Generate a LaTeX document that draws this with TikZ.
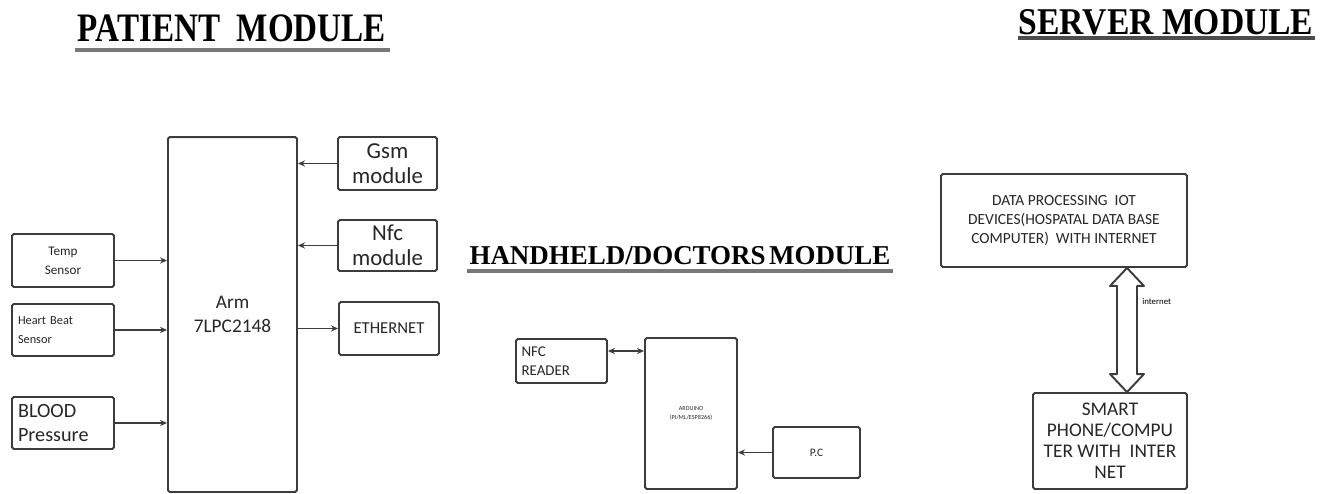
\documentclass[tikz,border=0pt]{standalone}
\usepackage{fontspec}
\setmainfont{Liberation Serif}
\newfontfamily\boxfont{Carlito}
\usetikzlibrary{arrows.meta,calc}
\definecolor{lineclr}{RGB}{60,60,60}
\definecolor{ulclr}{RGB}{120,120,120}
\tikzset{
  blk/.style={draw=lineclr, line width=1.1pt, rounded corners=1pt, inner sep=2pt, font=\boxfont, text=black!85},
  title/.style={font=\bfseries, inner sep=0pt, anchor=south},
  ulined/.style={draw=ulclr, line width=2.5pt},
  conn/.style={draw=lineclr, line width=1pt, -{Stealth[length=4pt,width=3.5pt]}},
  bconn/.style={conn, {Stealth[length=4pt,width=3.5pt]}-{Stealth[length=4pt,width=3.5pt]}}
}

\begin{document}
\begin{tikzpicture}[x=0.02cm, y=-0.02cm]
    \useasboundingbox (0,0) rectangle (1320,494);
    % titles
    \node[title, font=\bfseries\fontsize{23}{24}\selectfont, xscale=0.82] (pttl) at (232,42) {PATIENT\ \ MODULE};
    \node[title, font=\bfseries\fontsize{21.5}{22}\selectfont, xscale=0.89] (sttl) at (1166,35) {SERVER MODULE};
    \node[title, font=\bfseries\fontsize{15.5}{16}\selectfont, xscale=0.99] (httl) at (680,265) {HANDHELD/DOCTORS\hspace{2pt}MODULE};
    \draw[ulined] (75,50) -- (390,50);
    \draw[ulined, draw=black!70, line width=2pt] (1018,38) -- (1315,38);
    \draw[ulined, line width=2pt] (467,271) -- (893,271);

    % patient module
    \node[blk, minimum width=2.58cm, minimum height=7.1cm, font=\boxfont\fontsize{11}{14}\selectfont, align=center] (arm) at (232.5,314.5) {Arm\\7LPC2148};
    \node[blk, minimum width=1.98cm, minimum height=1.06cm, font=\boxfont\fontsize{13}{14}\selectfont, align=center] (gsm) at (387.5,163.5) {Gsm\\module};
    \node[blk, minimum width=1.98cm, minimum height=1.02cm, font=\boxfont\fontsize{13}{14}\selectfont, align=center] (nfcm) at (387.5,245.5) {Nfc\\module};
    \node[blk, minimum width=2.0cm, minimum height=1.06cm, font=\boxfont\fontsize{9.5}{11}\selectfont] (eth) at (389,328.5) {ETHERNET};
    \node[blk, minimum width=2.04cm, minimum height=1.06cm, font=\boxfont\fontsize{7.5}{11}\selectfont, align=center] (temp) at (63,260.5) {Temp\\Sensor};
    \node[blk, minimum width=2.04cm, minimum height=1.04cm, font=\boxfont\fontsize{7}{11}\selectfont, align=left, text width=1.8cm] (heart) at (63,330) {Heart Beat\\Sensor};
    \node[blk, minimum width=2.04cm, minimum height=1.04cm, font=\boxfont\fontsize{11.5}{14}\selectfont, align=left, text width=1.8cm] (blood) at (63,423) {BLOOD\\Pressure};

    \draw[conn] (gsm.west) -- (gsm.west -| arm.east);
    \draw[conn] (nfcm.west) -- (nfcm.west -| arm.east);
    \draw[conn] (eth.west -| arm.east) -- (eth.west);
    \draw[conn] (temp.east) -- (temp.east -| arm.west);
    \draw[conn] (heart.east) -- (heart.east -| arm.west);
    \draw[conn] (blood.east) -- (blood.east -| arm.west);

    % handheld module
    \node[blk, minimum width=1.82cm, minimum height=0.88cm, font=\boxfont\fontsize{8.5}{11}\selectfont, align=left, text width=1.6cm] (nfcr) at (561.5,361) {NFC\\READER};
    \node[blk, minimum width=1.84cm, minimum height=3.02cm, font=\boxfont\fontsize{3.5}{5}\selectfont, align=center] (mcu) at (691,413.5) {ARDUINO\\(PI/ML/ESP8266)};
    \node[blk, minimum width=1.74cm, minimum height=1.02cm, font=\boxfont\fontsize{6.5}{8}\selectfont] (pc) at (816.5,452.5) {P.C};
    \draw[bconn] ([yshift=0.2cm]nfcr.east) -- ([yshift=0.2cm]nfcr.east -| mcu.west);
    \draw[conn] (pc.west) -- (pc.west -| mcu.east);

    % server module
    \node[blk, minimum width=4.92cm, minimum height=1.86cm, font=\boxfont\fontsize{8.8}{11}\selectfont, align=center] (dp) at (1064,220.5) {DATA PROCESSING\ \ IOT\\DEVICES(HOSPATAL DATA BASE\\COMPUTER)\ \ WITH INTERNET};
    \node[blk, minimum width=3.08cm, minimum height=1.92cm, font=\boxfont\fontsize{11}{12}\selectfont, align=center] (sp) at (1110,441) {SMART\\PHONE/COMPU\\TER WITH\ \ INTER\\NET};
    \path (dp.south) ++(63,0) coordinate (lt);
    \path (sp.north) ++(17,0) coordinate (lb);
    \draw[draw=lineclr, line width=1.1pt, fill=white, line join=round]
      (lt) -- ++(17,18) -- ++(-7,0) |- ($(lb)+(17,-18)$) -- (lb) -- ++(-17,-18) -- ++(7,0) |- ($(lt)+(-17,18)$) -- cycle;
    \node[font=\boxfont\fontsize{5}{6}\selectfont, anchor=west, inner sep=0pt] (inet) at (1142,302) {internet};
\end{tikzpicture}
\end{document}
